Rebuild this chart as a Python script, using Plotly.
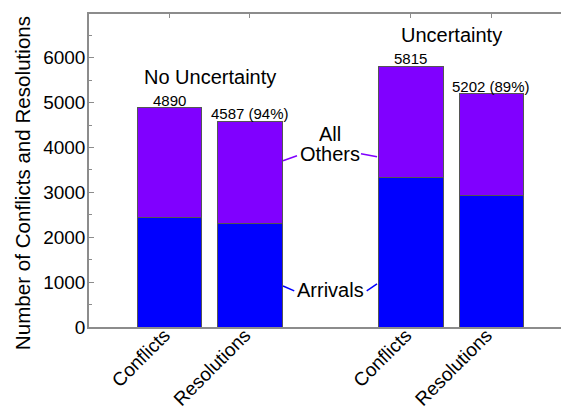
import plotly.graph_objects as go

# ---- data ----
positions = [1, 2, 4, 5]
bar_labels = ["Conflicts", "Resolutions", "Conflicts", "Resolutions"]
totals = [4890, 4587, 5815, 5202]
arrivals = [2445, 2305, 3330, 2930]
value_labels = ["4890", "4587 (94%)", "5815", "5202 (89%)"]
groups = ["No Uncertainty", "Uncertainty"]
group_centers = [1.5, 4.5]
group_label_y = [5570, 6505]

others = [t - a for t, a in zip(totals, arrivals)]

BLUE = "#0000FF"
PURPLE = "#8000FF"
FONT = "Arial, Liberation Sans, sans-serif"
AXC = "#8c8c8c"
XR = [0, 5.963]
YR = [0, 6975]

fig = go.Figure()
fig.add_trace(go.Bar(x=positions, y=arrivals, width=0.8, marker=dict(color=BLUE, line=dict(color="#555", width=1)),
                     showlegend=False, hoverinfo="skip"))
fig.add_trace(go.Bar(x=positions, y=others, width=0.8, marker=dict(color=PURPLE, line=dict(color="#555", width=1)),
                     showlegend=False, hoverinfo="skip"))
# helper invisible trace for mirrored tick axes
fig.add_trace(go.Scatter(x=[None], y=[None], xaxis="x2", yaxis="y2", showlegend=False, hoverinfo="skip"))

annotations = []
for p, t, lab in zip(positions, totals, value_labels):
    annotations.append(dict(x=p, y=t, xref="x", yref="y", text=lab, showarrow=False,
                            yanchor="bottom", yshift=-3, font=dict(size=15, color="black", family=FONT)))
for g, cx, gy in zip(groups, group_centers, group_label_y):
    annotations.append(dict(x=cx, y=gy, xref="x", yref="y", text=g, showarrow=False,
                            font=dict(size=20, color="black", family=FONT)))
annotations += [
    dict(x=3.0, y=4290, xref="x", yref="y", text="All", showarrow=False, font=dict(size=20, color="black", family=FONT)),
    dict(x=3.0, y=3860, xref="x", yref="y", text="Others", showarrow=False, font=dict(size=20, color="black", family=FONT)),
    dict(x=3.0, y=819, xref="x", yref="y", text="Arrivals", showarrow=False, font=dict(size=20, color="black", family=FONT)),
    dict(x=-0.1396, y=0.4596, xref="paper", yref="paper", xanchor="center", yanchor="middle",
         text="Number of Conflicts and Resolutions", textangle=-90,
         showarrow=False, font=dict(size=20.6, color="black", family=FONT)),
]

shapes = [
    dict(type="line", xref="x", yref="y", x0=2.41, y0=3705, x1=2.584, y1=3817, line=dict(color=PURPLE, width=1.5)),
    dict(type="line", xref="x", yref="y", x0=3.379, y0=3862, x1=3.578, y1=3795, line=dict(color=PURPLE, width=1.5)),
    dict(type="line", xref="x", yref="y", x0=2.41, y0=915, x1=2.55, y1=804, line=dict(color=BLUE, width=1.5)),
    dict(type="line", xref="x", yref="y", x0=3.45, y0=804, x1=3.578, y1=960, line=dict(color=BLUE, width=1.5)),
]

# page body has an 8px default margin: figure is sized/offset to compensate
fig.update_layout(
    width=561, height=400,
    margin=dict(l=81, r=0, t=6, b=81, pad=0),
    barmode="stack",
    plot_bgcolor="white", paper_bgcolor="white",
    font=dict(family=FONT, color="black"),
    annotations=annotations,
    shapes=shapes,
    xaxis=dict(range=XR, tickvals=positions, ticktext=bar_labels, tickangle=-45,
               tickfont=dict(size=19, color="black", family=FONT), automargin=False,
               ticklabelstandoff=-12, ticklabelshift=-5,
               showline=True, linecolor=AXC, linewidth=1.5, mirror=True, ticks="",
               showgrid=False, zeroline=False, fixedrange=True),
    yaxis=dict(range=YR, tickvals=[0, 1000, 2000, 3000, 4000, 5000, 6000],
               tickfont=dict(size=19, color="black", family=FONT), automargin=False,
               ticklabelstandoff=-2,
               showline=True, linecolor=AXC, linewidth=1.5,
               ticks="inside", ticklen=5, tickcolor=AXC, tickwidth=1,
               minor=dict(dtick=500, ticks="inside", ticklen=3, tickcolor=AXC, tickwidth=1),
               showgrid=False, zeroline=False, fixedrange=True),
    xaxis2=dict(range=XR, overlaying="x", side="top", tickvals=positions, showticklabels=False,
                ticks="inside", ticklen=4, tickcolor=AXC, tickwidth=1, showline=False, automargin=False,
                showgrid=False, zeroline=False, fixedrange=True),
    yaxis2=dict(range=YR, overlaying="y", side="right", tickvals=[0, 1000, 2000, 3000, 4000, 5000, 6000],
                showticklabels=False, ticks="inside", ticklen=5, tickcolor=AXC, tickwidth=1, automargin=False,
                minor=dict(dtick=500, ticks="inside", ticklen=3, tickcolor=AXC, tickwidth=1),
                showline=False, showgrid=False, zeroline=False, fixedrange=True),
)

fig.write_html("out.html")
